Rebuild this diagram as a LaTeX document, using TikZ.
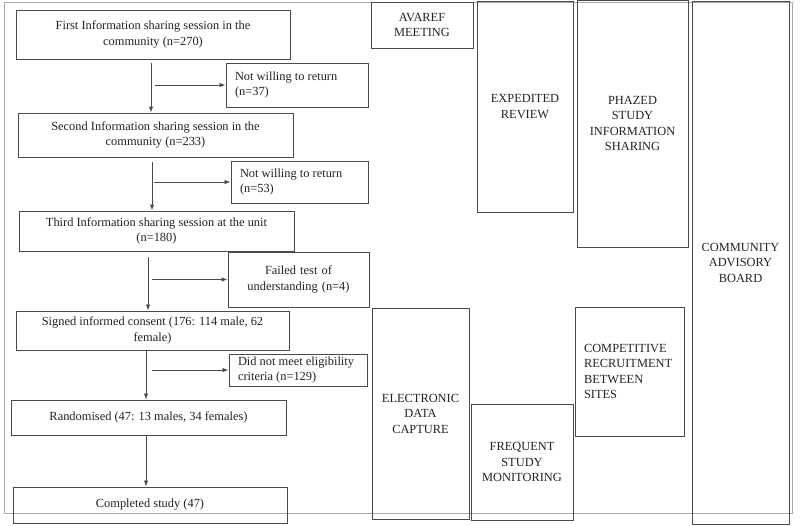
\documentclass[tikz,border=0pt]{standalone}
\usepackage{fontspec}
\setmainfont{Liberation Serif}
\usetikzlibrary{arrows.meta}
\definecolor{ink}{HTML}{222222}
\definecolor{edge}{HTML}{4A4A4A}
\definecolor{frame}{HTML}{A8A8A8}
\begin{document}
\begin{tikzpicture}[x=1pt,y=-1pt,
  box/.style={draw=edge,line width=1pt,inner sep=0pt,align=center,text=ink,
    font=\fontsize{12.4}{15.5}\selectfont},
  lbox/.style={box,align=flush left},
  arr/.style={draw=edge,line width=0.9pt,-{Latex[length=6pt,width=4.5pt]}}]
\useasboundingbox (0,0) rectangle (800,525);
\fill[white] (0,0) rectangle (800,525);
\draw[frame,line width=1pt] (4,2) rectangle (792,513);
% left flow
\node[box,minimum width=274,minimum height=49] (b1) at (153,34.5) {First Information sharing session in the\\community (n=270)};
\node[lbox,minimum width=142,minimum height=44,text width=124] (n1) at (297,85) {Not willing to return\\(n=37)};
\node[box,minimum width=275,minimum height=44] (b2) at (155.5,135) {Second Information sharing session in the\\community (n=233)};
\node[lbox,minimum width=137,minimum height=42,text width=119] (n2) at (299.5,182) {Not willing to return\\(n=53)};
\node[box,minimum width=275,minimum height=40] (b3) at (156.5,231) {Third Information sharing session at the unit\\(n=180)};
\node[box,minimum width=141,minimum height=55,text width=130] (n3) at (298.5,279.5) {Failed test of\\understanding (n=4)};
\node[box,minimum width=273,minimum height=39] (b4) at (152.5,330.5) {Signed informed consent (176: 114 male, 62\\female)};
\node[lbox,minimum width=138,minimum height=32,text width=120] (n4) at (298,370) {Did not meet eligibility\\criteria (n=129)};
\node[box,minimum width=275,minimum height=35] (b5) at (148.5,417.5) {Randomised (47: 13 males, 34 females)};
\node[box,minimum width=274,minimum height=36] (b6) at (150,505) {Completed study (47)};
% right columns
\node[box,minimum width=102,minimum height=46] (avaref) at (422,25) {AVAREF\\MEETING};
\node[box,minimum width=96,minimum height=211] (exp) at (525,106.5) {EXPEDITED\\REVIEW};
\node[box,minimum width=111,minimum height=247] (phz) at (632.5,123.5) {PHAZED\\STUDY\\INFORMATION\\SHARING};
\node[box,minimum width=97,minimum height=523] (cab) at (740.5,262.5) {COMMUNITY\\ADVISORY\\BOARD};
\node[box,minimum width=97,minimum height=211] (edc) at (420.5,413.5) {ELECTRONIC\\DATA\\CAPTURE};
\node[box,minimum width=102,minimum height=116] (fsm) at (522,462) {FREQUENT\\STUDY\\MONITORING};
\node[lbox,minimum width=109,minimum height=129,text width=91] (crs) at (629.5,371.5) {COMPETITIVE\\RECRUITMENT\\BETWEEN\\SITES};
% arrows
\coordinate (v1) at (151,63);
\coordinate (v2) at (152,162);
\coordinate (v3) at (148,257);
\coordinate (v4) at (146,351);
\coordinate (v5) at (146,436);
\draw[arr] (v1) -- (v1 |- b2.north);
\draw[arr] ([xshift=4pt]v1 |- n1.west) -- (n1.west);
\draw[arr] (v2) -- (v2 |- b3.north);
\draw[arr] ([xshift=2pt]v2 |- n2.west) -- (n2.west);
\draw[arr] (v3) -- (v3 |- b4.north);
\draw[arr] ([xshift=4pt]v3 |- n3.west) -- (n3.west);
\draw[arr] (v4) -- (v4 |- b5.north);
\draw[arr] ([xshift=6pt]v4 |- n4.west) -- (n4.west);
\draw[arr] (v5) -- (v5 |- b6.north);
\end{tikzpicture}
\end{document}
